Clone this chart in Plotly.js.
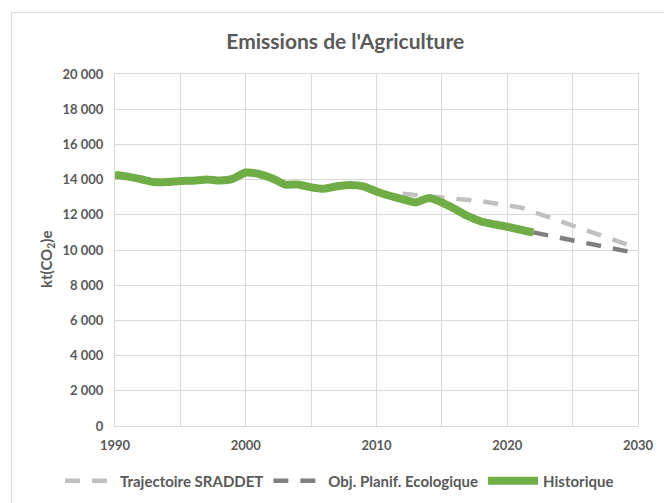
<!DOCTYPE html>
<html>
<head>
<meta charset="utf-8">
<script src="https://cdn.plot.ly/plotly-3.0.1.min.js"></script>
<style>
  html, body { margin: 0; padding: 0; background: #ffffff; }
  #frame { position: absolute; left: 11px; top: 12px; width: 700px; height: 600px; border: 1px solid #d9d9d9; box-sizing: border-box; pointer-events: none; }
  #chart { position: absolute; left: 0; top: 0; width: 664px; height: 503px; }
</style>
</head>
<body>
<div id="chart"></div>
<div id="frame"></div>
<script>
// ---- data ----
const histYears = [1990,1991,1992,1993,1994,1995,1996,1997,1998,1999,2000,2001,2002,2003,2004,2005,2006,2007,2008,2009,2010,2011,2012,2013,2014,2015,2016,2017,2018,2019,2020,2021,2022];
const histValues = [14260,14170,14020,13860,13860,13920,13940,14010,13950,14040,14400,14320,14080,13720,13720,13560,13480,13620,13700,13620,13330,13080,12880,12700,12950,12700,12330,11920,11620,11460,11320,11150,11000];

const sraddetYears = [2012, 2015, 2018, 2021, 2026, 2030];
const sraddetValues = [13200, 13000, 12770, 12420, 11150, 10100];

const objYears = [2022, 2030];
const objValues = [11000, 9800];

const yTickVals = [0,2000,4000,6000,8000,10000,12000,14000,16000,18000,20000];
const yTickText = yTickVals.map(v => v >= 1000 ? Math.floor(v/1000) + '\u202F' + '000' : String(v));

const seriesNames = ['Trajectoire SRADDET', 'Obj. Planif. Ecologique', 'Historique'];

// ---- chart ----
const FONT = "Lato, 'Open Sans', 'DejaVu Sans', sans-serif";
const TXT = '#595959';

const traces = [
  { x: sraddetYears, y: sraddetValues, name: seriesNames[0], type: 'scatter', mode: 'lines',
    line: { color: '#c0c0c0', width: 4.5, dash: '15px,12px' }, hoverinfo: 'x+y' },
  { x: objYears, y: objValues, name: seriesNames[1], type: 'scatter', mode: 'lines',
    line: { color: '#7f7f7f', width: 4.5, dash: '15px,12px' }, hoverinfo: 'x+y' },
  { x: histYears, y: histValues, name: seriesNames[2], type: 'scatter', mode: 'lines',
    line: { color: '#70ad47', width: 8, shape: 'spline', smoothing: 0.5 }, hoverinfo: 'x+y' }
];

const layout = {
  width: 664, height: 503,
  margin: { l: 115, r: 26, t: 74, b: 77, autoexpand: false },
  paper_bgcolor: 'rgba(0,0,0,0)', plot_bgcolor: '#ffffff',
  font: { family: FONT, color: TXT, size: 13 },
  title: { text: "Emissions de l'Agriculture", x: 0.52, xref: 'container', xanchor: 'center',
           y: 0.917, yref: 'container', yanchor: 'middle',
           font: { family: FONT, size: 21, color: TXT, weight: 'bold' } },
  xaxis: {
    range: [1990, 2030], tick0: 1990, dtick: 10, showgrid: true, gridcolor: '#d9d9d9', gridwidth: 1,
    minor: { dtick: 5, tick0: 1990, showgrid: true, gridcolor: '#d9d9d9', gridwidth: 1 },
    showline: true, linecolor: '#d9d9d9', linewidth: 1, mirror: true,
    zeroline: false, ticks: '', ticklabelstandoff: 7,
    tickfont: { family: FONT, size: 13, color: TXT, weight: 'bold' }
  },
  yaxis: {
    range: [0, 20000], tickvals: yTickVals, ticktext: yTickText,
    showgrid: true, gridcolor: '#d9d9d9', gridwidth: 1,
    showline: true, linecolor: '#d9d9d9', linewidth: 1, mirror: true,
    zeroline: false, ticks: '', ticklabelstandoff: 8,
    tickfont: { family: FONT, size: 13, color: TXT, weight: 'bold' }
  },
  annotations: [{
    text: 'kt(CO<sub>2</sub>)e', textangle: -90, xref: 'paper', yref: 'paper',
    x: (47 - 115) / 523, y: (426 - 260) / 352, xanchor: 'center', yanchor: 'middle',
    showarrow: false, font: { family: FONT, size: 15, color: TXT, weight: 'bold' }
  }],
  legend: {
    orientation: 'h', xref: 'paper', yref: 'paper', x: (60 - 115) / 523, xanchor: 'left',
    y: (426 - 481) / 352, yanchor: 'middle', itemwidth: 50, traceorder: 'normal',
    font: { family: FONT, size: 15, color: TXT, weight: 'bold' }, bgcolor: 'rgba(0,0,0,0)'
  },
  showlegend: true
};

Plotly.newPlot('chart', traces, layout, { displayModeBar: false, staticPlot: true });
</script>
</body>
</html>
